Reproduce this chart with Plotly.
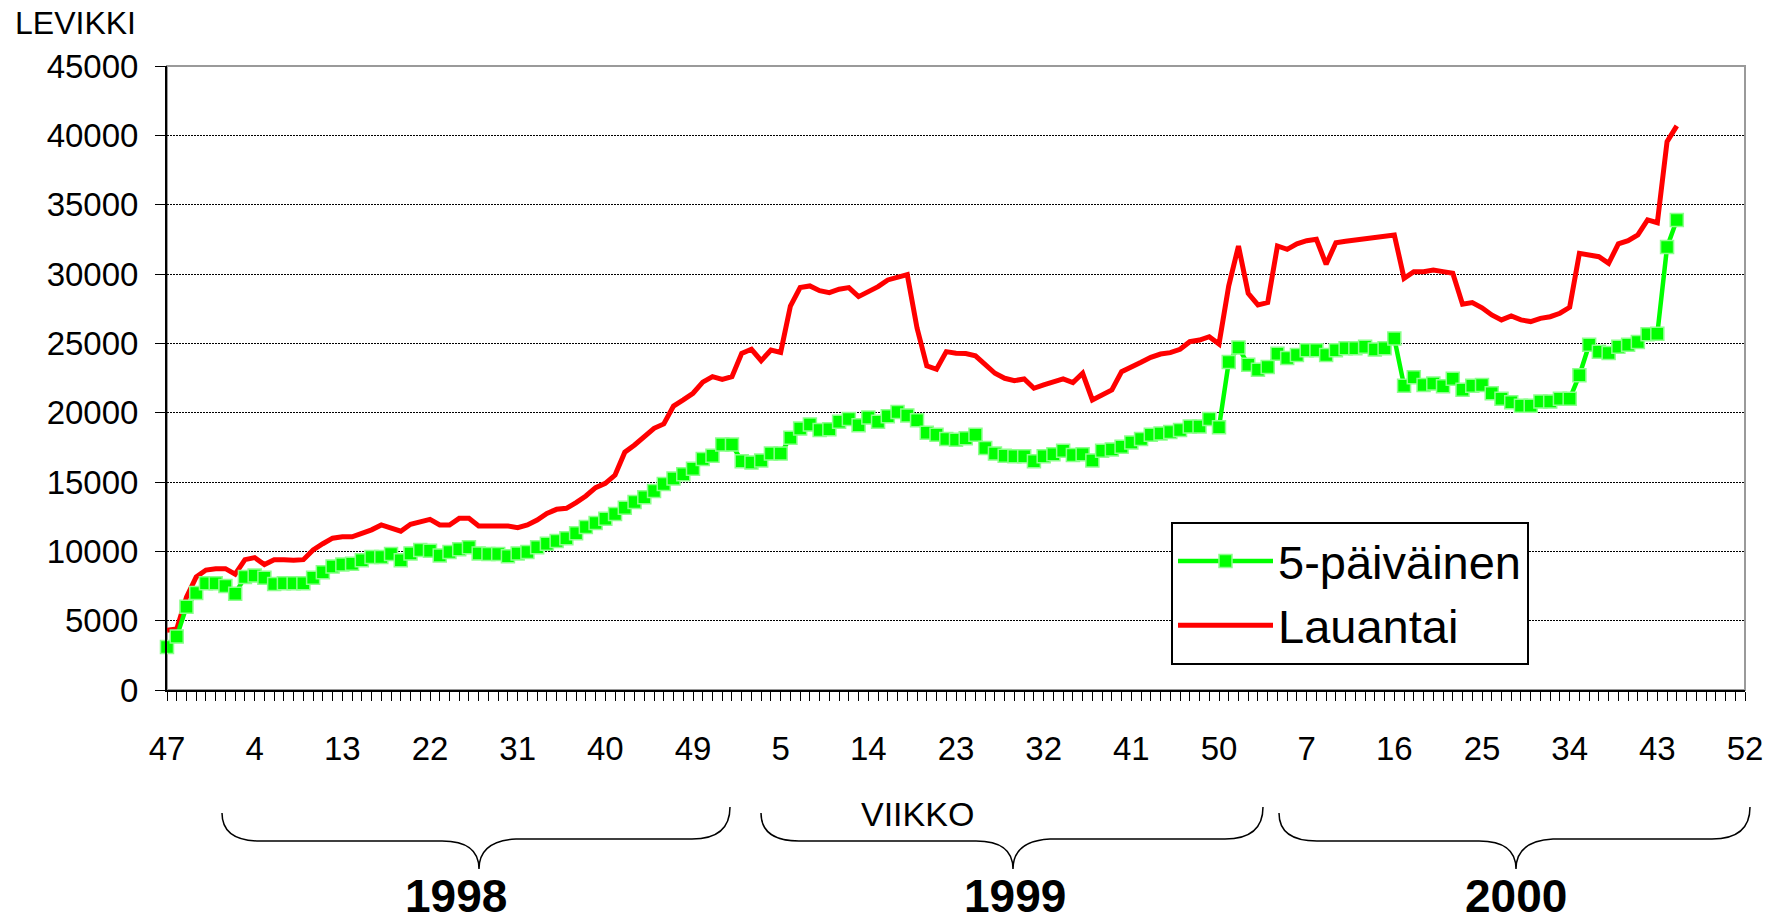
import plotly.graph_objects as go

# ---- data ----
year_weeks = [(1997, 47, 52), (1998, 1, 53), (1999, 1, 52), (2000, 1, 52)]
years = ["1998", "1999", "2000"]

five_day = [
    3100, 3850, 6000, 7000, 7700, 7700, 7500, 6950, 8150, 8250,
    8100, 7650, 7700, 7700, 7700, 8100, 8500, 8900, 9050, 9100,
    9350, 9600, 9600, 9800, 9350, 9850, 10100, 10050, 9700, 9950,
    10150, 10300, 9850, 9800, 9800, 9650, 9850, 9950, 10300, 10550,
    10750, 10950, 11300, 11750, 12050, 12350, 12700, 13150, 13550, 13900,
    14350, 14850, 15250, 15550, 15950, 16650, 16900, 17700, 17700, 16500,
    16400, 16550, 17050, 17050, 18200, 18850, 19150, 18750, 18800, 19350,
    19550, 19100, 19650, 19350, 19750, 20050, 19800, 19450, 18550, 18400,
    18100, 18050, 18150, 18400, 17450, 17050, 16900, 16850, 16850, 16500,
    16850, 17000, 17250, 16950, 17000, 16550, 17250, 17350, 17550, 17850,
    18100, 18400, 18500, 18600, 18750, 19000, 19000, 19550, 18950, 23650,
    24700, 23450, 23100, 23300, 24250, 23950, 24150, 24500, 24500, 24150,
    24500, 24650, 24650, 24750, 24550, 24650, 25350, 21950, 22550, 22000,
    22100, 21900, 22450, 21650, 21950, 22000, 21400, 21000, 20750, 20500,
    20500, 20800, 20800, 21000, 21000, 22700, 24900, 24400, 24300, 24750,
    24900, 25100, 25650, 25700, 31950, 33900,
]

saturday = [
    4300, 4400, 6700, 8150, 8650, 8750, 8750, 8350, 9400, 9550,
    9050, 9400, 9400, 9350, 9400, 10100, 10550, 10950, 11050, 11050,
    11300, 11550, 11900, 11650, 11450, 11950, 12100, 12300, 11900, 11900,
    12380, 12380, 11830, 11830, 11830, 11830, 11710, 11900, 12260, 12740,
    13030, 13100, 13510, 13990, 14590, 14900, 15500, 17150, 17670, 18270,
    18870, 19190, 20480, 20920, 21400, 22200, 22600, 22400, 22600, 24280,
    24570, 23750, 24520, 24350, 27690, 29020, 29140, 28800, 28660, 28900,
    29020, 28370, 28730, 29090, 29570, 29740, 29950, 26100, 23370, 23130,
    24400, 24280, 24270, 24100, 23440, 22840, 22480, 22310, 22430, 21760,
    22000, 22240, 22430, 22170, 22840, 20920, 21280, 21640, 22960, 23270,
    23630, 23990, 24230, 24330, 24570, 25120, 25240, 25480, 24950, 29150,
    32020, 28610, 27770, 27940, 32020, 31780, 32170, 32400, 32500, 30700,
    32260, 32360, 32450, 32570, 32570, 32700, 32820, 29690, 30170, 30170,
    30290, 30170, 30050, 27820, 27940, 27560, 27050, 26690, 26970, 26690,
    26570, 26800, 26920, 27170, 27600, 31490, 31370, 31250, 30770, 32170,
    32400, 32820, 33900, 33700, 39550, 40680,
]

# week labels along the category axis
week_labels = []
for yr, w0, w1 in year_weeks:
    for w in range(w0, w1 + 1):
        week_labels.append(w)
n_cat = len(week_labels)
tick_idx = list(range(0, n_cat, 9))
tick_txt = [str(week_labels[i]) for i in tick_idx]

x_vals = list(range(len(five_day)))

FONT = "Arial, 'Liberation Sans', sans-serif"

fig = go.Figure()
fig.add_trace(go.Scatter(
    x=x_vals, y=saturday, name="Lauantai", mode="lines",
    line=dict(color="#ff0000", width=5), cliponaxis=False, legendrank=2,
))
fig.add_trace(go.Scatter(
    x=x_vals, y=five_day, name="5-päiväinen", mode="lines+markers",
    line=dict(color="#00ff00", width=4.5),
    marker=dict(symbol="square", size=13, color="#00ff00",
                line=dict(color="#8cff8c", width=1.5)),
    cliponaxis=False, legendrank=1,
))

# figure geometry (pixels)
W, H = 1778, 921
L, R, T, B = 167, 33, 66, 231
PW, PH = W - L - R, H - T - B


def px(xp):
    return (xp - L) / PW


def py(yp):
    return (H - B - yp) / PH


fig.update_layout(
    width=W, height=H,
    margin=dict(l=L, r=R, t=T, b=B, autoexpand=False),
    paper_bgcolor="white", plot_bgcolor="white",
    font=dict(family=FONT, color="black"),
    showlegend=True,
    legend=dict(
        x=px(1171), y=py(522), xanchor="left", yanchor="top",
        bgcolor="white", bordercolor="black", borderwidth=2,
        font=dict(size=47, family=FONT, color="black"),
        itemwidth=95, tracegroupgap=0,
    ),
)

fig.update_xaxes(
    range=[0, n_cat - 1], showgrid=False, zeroline=False,
    showline=True, linecolor="black", linewidth=2,
    tickmode="array", tickvals=tick_idx, ticktext=tick_txt,
    ticks="outside", ticklen=9, tickcolor="black", tickwidth=1,
    tickfont=dict(size=33, family=FONT, color="black"),
    ticklabelstandoff=19,
    minor=dict(tickmode="linear", tick0=0, dtick=1, ticks="outside",
               ticklen=9, tickcolor="black", tickwidth=1, showgrid=False),
)
fig.update_yaxes(
    range=[0, 45000], dtick=5000, tick0=0, tickformat="d",
    showgrid=True, gridcolor="black", gridwidth=1, griddash="2px,1px",
    zeroline=False, showline=True, linecolor="black", linewidth=2,
    ticks="outside", ticklen=10, tickcolor="black", tickwidth=1,
    tickfont=dict(size=33, family=FONT, color="black"),
    ticklabelstandoff=10,
)

shapes = []
# plot-area frame (light grey, top and right)
shapes.append(dict(type="rect", xref="paper", yref="paper", x0=0, y0=0, x1=1, y1=1,
                   line=dict(color="#9a9a9a", width=2), layer="below"))


def brace(xl, xc, xr, ytop_l, ytop_r, yline, ypt, r=38, rc=37):
    p = (f"M {px(xl)},{py(ytop_l)} "
         f"Q {px(xl)},{py(yline)} {px(xl + r)},{py(yline)} "
         f"L {px(xc - rc)},{py(yline)} "
         f"Q {px(xc)},{py(yline)} {px(xc)},{py(ypt)} "
         f"Q {px(xc)},{py(yline)} {px(xc + rc)},{py(yline - 2)} "
         f"L {px(xr - r)},{py(yline - 2)} "
         f"Q {px(xr)},{py(yline - 2)} {px(xr)},{py(ytop_r)}")
    return dict(type="path", xref="paper", yref="paper", path=p,
                line=dict(color="black", width=1.5))


shapes.append(brace(222, 479, 730, 813, 807, 841, 869))
shapes.append(brace(761, 1013, 1263, 813, 807, 841, 869))
shapes.append(brace(1279, 1516, 1750, 813, 807, 841, 869))

annotations = [
    dict(text="LEVIKKI", xref="paper", yref="paper", x=px(13), y=py(23),
         xanchor="left", yanchor="middle", showarrow=False,
         font=dict(size=32, family=FONT, color="black")),
    dict(text="VIIKKO", xref="paper", yref="paper", x=px(917), y=py(814),
         xanchor="center", yanchor="middle", showarrow=False,
         font=dict(size=34, family=FONT, color="black")),
]
for label, cx in zip(years, [456, 1015, 1516]):
    annotations.append(dict(text=f"<b>{label}</b>", xref="paper", yref="paper",
                            x=px(cx), y=py(896), xanchor="center", yanchor="middle",
                            showarrow=False,
                            font=dict(size=46, family=FONT, color="black")))

fig.update_layout(shapes=shapes, annotations=annotations)

fig.write_html(
    "out.html",
    config={"displayModeBar": False},
    post_script="document.body.style.margin='0';document.body.style.overflow='hidden';",
)
